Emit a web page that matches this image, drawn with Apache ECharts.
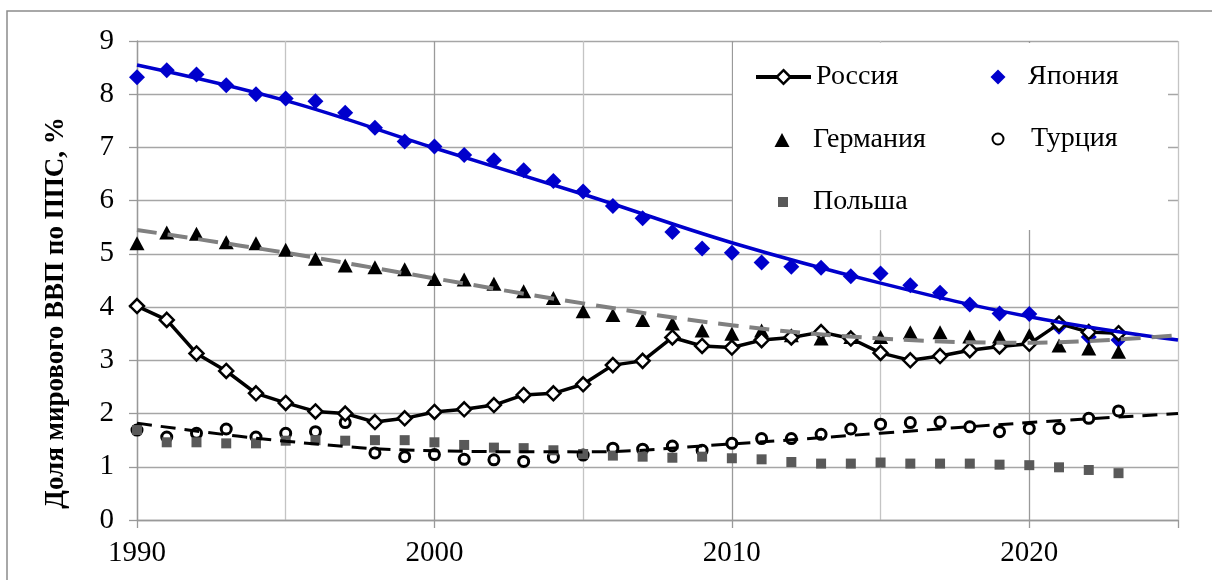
<!DOCTYPE html>
<html>
<head>
<meta charset="utf-8">
<script src="https://cdn.jsdelivr.net/npm/echarts@6/dist/echarts.min.js"></script>
<style>
  html, body { margin: 0; padding: 0; background: #fff; }
  #chart { width: 1212px; height: 580px; }
</style>
</head>
<body>
<div id="chart"></div>
<script>
const years = [1990, 1991, 1992, 1993, 1994, 1995, 1996, 1997, 1998, 1999,
  2000, 2001, 2002, 2003, 2004, 2005, 2006, 2007, 2008, 2009,
  2010, 2011, 2012, 2013, 2014, 2015, 2016, 2017, 2018, 2019,
  2020, 2021, 2022, 2023]

const russia = [4.02, 3.76, 3.13, 2.80, 2.38, 2.20, 2.04, 2.00, 1.84, 1.91,
  2.03, 2.08, 2.16, 2.35, 2.38, 2.55, 2.91, 2.99, 3.43, 3.27,
  3.24, 3.38, 3.43, 3.53, 3.41, 3.14, 3.00, 3.08, 3.19, 3.26,
  3.31, 3.69, 3.53, 3.51]
const japan = [8.32, 8.45, 8.37, 8.17, 8.00, 7.92, 7.87, 7.65, 7.37, 7.11,
  7.02, 6.86, 6.76, 6.57, 6.37, 6.17, 5.90, 5.67, 5.41, 5.10,
  5.02, 4.84, 4.76, 4.74, 4.58, 4.63, 4.41, 4.27, 4.05, 3.88,
  3.87, 3.63, 3.44, 3.38]
const germany = [5.20, 5.40, 5.38, 5.22, 5.20, 5.08, 4.91, 4.78, 4.75, 4.71,
  4.53, 4.52, 4.44, 4.30, 4.17, 3.92, 3.85, 3.76, 3.69, 3.56,
  3.50, 3.56, 3.47, 3.41, 3.44, 3.44, 3.53, 3.53, 3.45, 3.45,
  3.47, 3.28, 3.22, 3.16]
const turkey = [1.69, 1.56, 1.63, 1.71, 1.56, 1.63, 1.66, 1.83, 1.26, 1.19,
  1.23, 1.14, 1.13, 1.10, 1.18, 1.22, 1.35, 1.33, 1.39, 1.31,
  1.44, 1.53, 1.53, 1.61, 1.71, 1.80, 1.83, 1.84, 1.75, 1.66,
  1.72, 1.72, 1.91, 2.05]
const poland = [1.69, 1.46, 1.46, 1.44, 1.44, 1.49, 1.50, 1.49, 1.50, 1.50,
  1.46, 1.41, 1.36, 1.35, 1.31, 1.24, 1.21, 1.19, 1.17, 1.19,
  1.16, 1.14, 1.09, 1.06, 1.06, 1.08, 1.06, 1.06, 1.06, 1.04,
  1.03, 0.99, 0.94, 0.88]

// trend lines, every 5 years
const trendYears = [1990, 1995, 2000, 2005, 2010, 2015, 2020, 2025]
const japanTrend = [8.55, 7.88, 6.99, 6.12, 5.21, 4.45, 3.82, 3.38]
const germanyTrend = [5.45, 5.02, 4.54, 4.07, 3.66, 3.41, 3.33, 3.47]
const turkeyTrend = [1.82, 1.48, 1.30, 1.28, 1.43, 1.63, 1.83, 2.00]

const yTitle = 'Доля мирового ВВП по ППС, %'
const font = 'Liberation Serif'

const pairs = (xs, ys) => xs.map((x, i) => [x, ys[i]])

// one legend per entry so each icon / label sits where the original has it
function legendItem(name, cx, cy, w, h, textX, extra) {
  const left = cx - w / 2
  const pad = Math.max(0, textX - (left + w + 5))
  return Object.assign({
    data: [name],
    left: left,
    top: cy - 15,
    padding: 0,
    itemWidth: w,
    itemHeight: h,
    textStyle: {
      fontFamily: font, fontSize: 28, color: '#000', lineHeight: 30,
      padding: [0, 0, 0, pad]
    }
  }, extra || {})
}

const chart = echarts.init(document.getElementById('chart'))

chart.setOption({
  animation: false,
  backgroundColor: '#fff',
  grid: { left: 137, right: 34, top: 41, bottom: 60 },
  graphic: [
    {
      type: 'rect',
      shape: { x: 7, y: 11, width: 1400, height: 800 },
      style: { fill: 'none', stroke: '#8c8c8c', lineWidth: 1.5 },
      z: 1
    },
    {
      type: 'rect',
      shape: { x: 733, y: 43, width: 435, height: 187 },
      style: { fill: '#fff' },
      z: 1
    },
    {
      type: 'text',
      x: 56,
      y: 313,
      rotation: Math.PI / 2,
      style: {
        text: yTitle,
        fontFamily: font,
        fontWeight: 'bold',
        fontSize: 27,
        fill: '#000',
        align: 'center',
        verticalAlign: 'middle'
      },
      z: 1
    }
  ],
  legend: [
    legendItem('Россия', 781.5, 77, 55, 17, 813, {
      lineStyle: { width: 4, color: '#000' },
      itemStyle: { color: '#fff', borderColor: '#000', borderWidth: 2.5 }
    }),
    legendItem('Германия', 782, 140, 15, 14, 813),
    legendItem('Польша', 783, 202, 10, 10, 813),
    legendItem('Япония', 998, 77, 15, 15, 1028),
    legendItem('Турция', 997, 139, 11, 11, 1030)
  ],
  xAxis: [
    {
      type: 'value',
      min: 1990,
      max: 2025,
      interval: 10,
      axisLine: { lineStyle: { color: '#999', width: 1.3 } },
      axisTick: { length: 8, lineStyle: { color: '#999', width: 1.3 } },
      axisLabel: {
        margin: 19,
        fontFamily: font,
        fontSize: 29,
        color: '#000',
        formatter: v => (v % 10 === 0 && v < 2025 ? String(v) : '')
      },
      splitLine: { show: false }
    },
    {
      type: 'value',
      min: 1990,
      max: 2025,
      interval: 5,
      position: 'bottom',
      axisLine: { show: false },
      axisTick: { show: false },
      axisLabel: { show: false },
      splitLine: { lineStyle: { color: ['#9a9a9a', '#c4c4c4'], width: 1.3 } }
    }
  ],
  yAxis: {
    type: 'value',
    min: 0,
    max: 9,
    interval: 1,
    axisLine: { show: true, lineStyle: { color: '#999', width: 1.3 } },
    axisTick: { show: true, length: 8, lineStyle: { color: '#999', width: 1.3 } },
    axisLabel: { margin: 23, fontFamily: font, fontSize: 29, color: '#000' },
    splitLine: { lineStyle: { color: '#a6a6a6', width: 1.3 } }
  },
  series: [
    {
      name: 'Россия',
      type: 'line',
      data: pairs(years, russia),
      symbol: 'diamond',
      symbolSize: 14,
      lineStyle: { color: '#000', width: 3.5 },
      itemStyle: { color: '#fff', borderColor: '#000', borderWidth: 2.5 },
      z: 3
    },
    {
      name: 'Япония',
      type: 'scatter',
      data: pairs(years, japan),
      symbol: 'diamond',
      symbolSize: 16,
      itemStyle: { color: '#0000cc', opacity: 1 }
    },
    {
      name: 'Германия',
      type: 'scatter',
      data: pairs(years, germany),
      symbol: 'triangle',
      symbolSize: [15, 14],
      itemStyle: { color: '#000', opacity: 1 }
    },
    {
      name: 'Турция',
      type: 'scatter',
      data: pairs(years, turkey),
      symbol: 'circle',
      symbolSize: 10,
      itemStyle: { color: '#fff', borderColor: '#000', borderWidth: 3, opacity: 1 }
    },
    {
      name: 'Польша',
      type: 'scatter',
      data: pairs(years, poland),
      symbol: 'rect',
      symbolSize: 10,
      itemStyle: { color: '#595959', opacity: 1 }
    },
    {
      name: 'trend-japan',
      type: 'line',
      data: pairs(trendYears, japanTrend),
      smooth: 0.4,
      showSymbol: false,
      silent: true,
      lineStyle: { color: '#0000cc', width: 3.5 },
      z: 4
    },
    {
      name: 'trend-germany',
      type: 'line',
      data: pairs(trendYears, germanyTrend),
      smooth: 0.4,
      showSymbol: false,
      silent: true,
      lineStyle: { color: '#808080', width: 4, type: [20, 11] },
      z: 4
    },
    {
      name: 'trend-turkey',
      type: 'line',
      data: pairs(trendYears, turkeyTrend),
      smooth: 0.4,
      showSymbol: false,
      silent: true,
      lineStyle: { color: '#000', width: 3, type: [15, 9] },
      z: 4
    }
  ]
})
</script>
</body>
</html>
